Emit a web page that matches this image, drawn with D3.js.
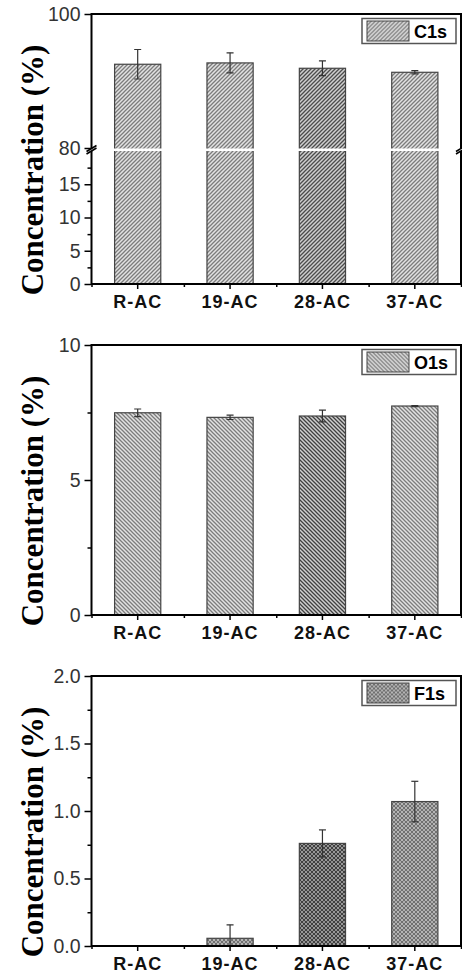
<!DOCTYPE html>
<html>
<head>
<meta charset="utf-8">
<script src="https://cdn.jsdelivr.net/npm/d3@7"></script>
<style>
  html, body { margin: 0; padding: 0; background: #fff; }
  svg { display: block; }
</style>
</head>
<body>
<svg id="chart" width="462" height="979"></svg>
<script>
// data
var categories = ["R-AC", "19-AC", "28-AC", "37-AC"];

var c1sValues = [92.5, 92.7, 91.9, 91.3];
var c1sErrors = [2.2, 1.5, 1.1, 0.25];
var c1sLowTicks = [0, 5, 10, 15];
var c1sLowMinor = [2.5, 7.5, 12.5, 17.5];
var c1sHighTicks = [80, 100];

var o1sValues = [7.49, 7.32, 7.37, 7.74];
var o1sErrors = [0.14, 0.08, 0.22, 0.02];
var o1sTicks = [0, 5, 10];
var o1sMinor = [2.5, 7.5];

var f1sValues = [0, 0.057, 0.76, 1.07];
var f1sErrors = [0, 0.1, 0.1, 0.15];
var f1sTicks = [0, 0.5, 1.0, 1.5, 2.0];
var f1sMinor = [0.25, 0.75, 1.25, 1.75];

var svg = d3.select('#chart');
var defs = svg.append('defs');
var left = 91.5, right = 461;
var tickFont = '"Liberation Sans", Arial, sans-serif';
var titleFont = '"Liberation Serif", "Times New Roman", serif';

var x = d3.scaleBand().domain(categories).range([left, right]).paddingInner(0.5).paddingOuter(0.25);
var xIdx = d3.scaleLinear().domain([0.5, categories.length + 0.5]).range([left, right]);

// hatch patterns
var makeHatch = function(id, kind, bg, fg){
  var p = defs.append('pattern').attr('id', id).attr('patternUnits', 'userSpaceOnUse')
    .attr('width', 4).attr('height', 4);
  p.append('rect').attr('width', 4).attr('height', 4).attr('fill', bg);
  if (kind === 'fwd' || kind === 'cross') {
    p.append('path').attr('d', 'M-1,1 L1,-1 M0,4 L4,0 M3,5 L5,3').attr('stroke', fg).attr('stroke-width', 1.3);
  }
  if (kind === 'back' || kind === 'cross') {
    p.append('path').attr('d', 'M-1,3 L1,5 M0,0 L4,4 M3,-1 L5,1').attr('stroke', fg).attr('stroke-width', 1.3);
  }
};
makeHatch('c1s', 'fwd', '#e2e2e2', '#7c7c7c');
makeHatch('c1sDark', 'fwd', '#cfcfcf', '#4c4c4c');
makeHatch('o1s', 'back', '#e2e2e2', '#7c7c7c');
makeHatch('o1sDark', 'back', '#cfcfcf', '#404040');
makeHatch('f1s', 'cross', '#e8e8e8', '#707070');
makeHatch('f1sDark', 'cross', '#dadada', '#404040');

var styleAxis = function(g){
  g.select('.domain').remove();
  g.selectAll('line').attr('stroke', '#000').attr('stroke-width', 1.5);
  g.selectAll('text').attr('font-family', tickFont).attr('fill', '#333');
};

var drawPanel = function(opt){
  var top = opt.top, bottom = opt.top + 270;
  var g = svg.append('g');
  var clipId = opt.name + 'clip';
  defs.append('clipPath').attr('id', clipId).append('rect')
    .attr('x', left).attr('y', top).attr('width', right - left).attr('height', bottom - top);

  var yOf = opt.yOf;
  var fills = function(i){ return i === 2 ? 'url(#' + opt.name + 'Dark)' : 'url(#' + opt.name + ')'; };
  var rows = opt.values.map(function(v, i){
    return { c: categories[i], v: v, e: opt.errors[i], i: i };
  });

  var plot = g.append('g').attr('clip-path', 'url(#' + clipId + ')');
  plot.selectAll('rect.bar').data(rows.filter(function(d){ return d.v > 0; }))
    .enter().append('rect').attr('class', 'bar')
    .attr('x', function(d){ return x(d.c); })
    .attr('y', function(d){ return yOf(d.v); })
    .attr('width', x.bandwidth())
    .attr('height', function(d){ return yOf(0) - yOf(d.v); })
    .attr('fill', function(d){ return fills(d.i); })
    .attr('stroke', '#444').attr('stroke-width', 1.2);

  if (opt.gap) {
    plot.append('rect').attr('x', left).attr('width', right - left)
      .attr('y', opt.gap[0]).attr('height', opt.gap[1] - opt.gap[0]).attr('fill', '#fff');
  }

  // error bars
  var eb = plot.selectAll('g.err').data(rows.filter(function(d){ return d.e > 0; }))
    .enter().append('g').attr('class', 'err')
    .attr('stroke', '#333').attr('stroke-width', 1.2);
  eb.append('line')
    .attr('x1', function(d){ return x(d.c) + x.bandwidth() / 2; })
    .attr('x2', function(d){ return x(d.c) + x.bandwidth() / 2; })
    .attr('y1', function(d){ return yOf(d.v + d.e); })
    .attr('y2', function(d){ return yOf(d.v - d.e); });
  [1, -1].forEach(function(s){
    eb.append('line')
      .attr('x1', function(d){ return x(d.c) + x.bandwidth() / 2 - 3.5; })
      .attr('x2', function(d){ return x(d.c) + x.bandwidth() / 2 + 3.5; })
      .attr('y1', function(d){ return yOf(d.v + s * d.e); })
      .attr('y2', function(d){ return yOf(d.v + s * d.e); });
  });

  // y axes
  opt.yAxes.forEach(function(a){
    var ax = g.append('g').attr('transform', 'translate(' + left + ',0)')
      .call(d3.axisLeft(a.scale).tickValues(a.ticks).tickSize(7).tickPadding(4).tickFormat(a.format || d3.format('d')));
    styleAxis(ax);
    ax.selectAll('text').attr('font-size', 19.5);
    if (a.minor) {
      var mx = g.append('g').attr('transform', 'translate(' + left + ',0)')
        .call(d3.axisLeft(a.scale).tickValues(a.minor).tickSize(4).tickFormat(''));
      styleAxis(mx);
    }
  });

  // x axis
  var xa = g.append('g').attr('transform', 'translate(0,' + bottom + ')')
    .call(d3.axisBottom(x).tickSize(5).tickPadding(6));
  styleAxis(xa);
  xa.selectAll('text').attr('font-size', 18).attr('font-weight', 'bold').attr('fill', '#111')
    .attr('letter-spacing', 1);
  var xm = g.append('g').attr('transform', 'translate(0,' + bottom + ')')
    .call(d3.axisBottom(xIdx).tickValues(d3.range(0.5, categories.length + 1, 1)).tickSize(3).tickFormat(''));
  styleAxis(xm);

  // frame
  var frame = g.append('g').attr('stroke', '#000').attr('stroke-width', 2).attr('fill', 'none');
  if (opt.gap) {
    var gy0 = opt.gap[0], gy1 = opt.gap[1];
    frame.append('path').attr('d',
      'M' + left + ',' + gy0 + 'V' + top + 'H' + right + 'V' + gy0 +
      'M' + left + ',' + gy1 + 'V' + bottom + 'H' + right + 'V' + gy1);
    [left, right].forEach(function(px){
      frame.append('path').attr('stroke-width', 1.6)
        .attr('d', 'M' + (px - 5) + ',' + (gy0 + 3) + 'L' + (px + 5) + ',' + (gy0 - 3) +
          'M' + (px - 5) + ',' + (gy1 + 3) + 'L' + (px + 5) + ',' + (gy1 - 3));
    });
  } else {
    frame.append('rect').attr('x', left).attr('y', top).attr('width', right - left).attr('height', bottom - top);
  }

  // legend
  var lg = g.append('g').attr('transform', 'translate(362,' + (top + 4.5) + ')');
  lg.append('rect').attr('width', 94).attr('height', 25).attr('fill', '#fff')
    .attr('stroke', '#555').attr('stroke-width', 1.5);
  lg.append('rect').attr('x', 5).attr('y', 2.5).attr('width', 42).attr('height', 20)
    .attr('fill', 'url(#' + opt.name + ')').attr('stroke', '#444').attr('stroke-width', 1);
  lg.append('text').attr('x', 52).attr('y', 19).text(opt.label)
    .attr('font-family', tickFont).attr('font-weight', 'bold').attr('font-size', 18).attr('fill', '#000');

  // y title
  svg.append('text').attr('transform', 'translate(43,' + (top + 156) + ') rotate(-90)')
    .attr('text-anchor', 'middle').attr('font-family', titleFont).attr('font-weight', 'bold')
    .attr('font-size', 31).attr('fill', '#000').text('Concentration (%)');
};

// panel 1: broken axis 0-20 / 80-100
var y1Low = d3.scaleLinear().domain([0, 20]).range([284, 151]);
var y1High = d3.scaleLinear().domain([80, 100]).range([148, 14]);
drawPanel({
  name: 'c1s', label: 'C1s', top: 14, values: c1sValues, errors: c1sErrors,
  gap: [148.5, 151],
  yOf: function(v){ return v >= 80 ? y1High(v) : y1Low(Math.min(v, 20)); },
  yAxes: [
    { scale: y1Low, ticks: c1sLowTicks, minor: c1sLowMinor },
    { scale: y1High, ticks: c1sHighTicks }
  ]
});

var y2 = d3.scaleLinear().domain([0, 10]).range([615, 345]);
drawPanel({
  name: 'o1s', label: 'O1s', top: 345, values: o1sValues, errors: o1sErrors,
  yOf: y2,
  yAxes: [{ scale: y2, ticks: o1sTicks, minor: o1sMinor }]
});

var y3 = d3.scaleLinear().domain([0, 2]).range([946, 676]);
drawPanel({
  name: 'f1s', label: 'F1s', top: 676, values: f1sValues, errors: f1sErrors,
  yOf: y3,
  yAxes: [{ scale: y3, ticks: f1sTicks, minor: f1sMinor, format: d3.format('.1f') }]
});
</script>
</body>
</html>
